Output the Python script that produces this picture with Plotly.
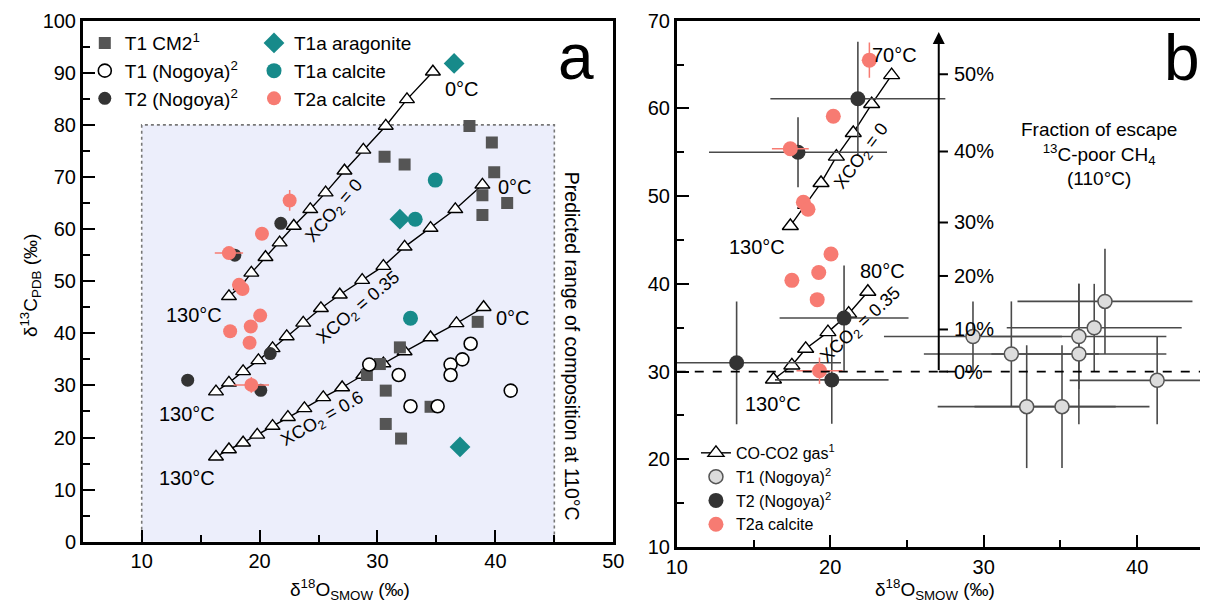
import plotly.graph_objects as go

FONT = "Liberation Sans, Arial, sans-serif"

# ---------------- data ----------------
# T1 CM2 (gray squares, panel a)
t1cm2_x = [37.8, 39.7, 30.6, 32.3, 39.9, 38.9, 41.0, 38.9, 38.5, 31.9, 30.2, 29.1, 30.7, 34.5, 30.7, 32.0]
t1cm2_y = [79.8, 76.6, 73.9, 72.4, 70.9, 66.5, 65.0, 62.7, 42.2, 37.3, 34.1, 32.0, 29.0, 25.9, 22.6, 19.8]

# T1 (Nogoya) open circles
t1_x = [29.3, 31.8, 32.8, 35.1, 36.2, 36.2, 37.2, 37.9, 41.3]
t1_y = [34.0, 32.0, 26.0, 26.0, 34.0, 32.0, 35.0, 38.0, 29.0]
t1_ex = [5.8, 5.7, 5.8, 5.7, 5.7, 5.7, 5.7, 5.7, 5.7]
t1_ey = [4.0, 6.0, 7.0, 7.0, 6.0, 8.0, 5.0, 6.0, 5.0]

# T2 (Nogoya) dark circles
t2_x = [21.8, 17.9, 20.9, 13.9, 20.1]
t2_y = [61.1, 55.0, 36.1, 31.0, 29.05]
t2_ex = [5.7, 5.8, 4.2, 6.8, 3.7]
t2_ey = [6.5, 4.0, 6.0, 7.0, 5.0]

# T2a calcite (salmon circles)
t2a_x = [22.55, 20.2, 17.4, 18.25, 18.55, 17.5, 19.25, 20.05, 19.15, 19.3]
t2a_y = [65.5, 59.1, 55.4, 49.3, 48.5, 40.4, 41.3, 43.4, 38.2, 30.1]
t2a_ex = [0.5, 0, 1.2, 0, 0, 0, 0, 0, 0, 1.5]
t2a_ey = [2.0, 0, 0, 0, 0, 0, 0, 0, 0, 1.5]

# T1a aragonite (teal diamonds) and T1a calcite (teal circles)
t1a_arag_x = [36.5, 31.9, 37.0]
t1a_arag_y = [91.8, 61.9, 18.2]
t1a_calc_x = [34.9, 33.2, 32.8]
t1a_calc_y = [69.4, 61.9, 42.9]

# CO-CO2 gas model lines, panel a (130 C -> 0 C)
a_x0 = [17.4, 18.4, 19.3, 20.5, 21.7, 22.9, 24.3, 25.6, 27.2, 28.8, 30.7, 32.5, 34.7]
a_y0 = [47.1, 49.0, 51.6, 54.6, 57.4, 60.6, 63.8, 67.0, 71.2, 75.2, 79.8, 84.9, 90.2]
a_x35 = [16.3, 17.4, 18.6, 19.9, 21.1, 22.3, 23.7, 25.2, 26.8, 28.7, 30.5, 32.3, 34.5, 36.6, 38.9]
a_y35 = [28.8, 30.5, 32.7, 34.8, 37.1, 39.4, 42.0, 44.8, 47.4, 50.2, 52.9, 56.6, 60.2, 63.8, 68.5]
a_x60 = [16.3, 17.4, 18.6, 19.8, 21.1, 22.4, 23.8, 25.4, 27.0, 28.8, 30.5, 32.3, 34.5, 36.7, 39.0]
a_y60 = [16.3, 17.7, 19.0, 20.5, 22.2, 23.9, 25.6, 27.7, 29.6, 32.0, 34.2, 36.5, 39.2, 41.9, 45.0]

# CO-CO2 gas model lines, panel b
b_x0 = [17.4, 18.4, 19.4, 20.4, 21.5, 22.7, 24.0]
b_y0 = [46.6, 49.0, 51.5, 54.5, 57.2, 60.5, 63.8]
b_x35 = [16.3, 17.5, 18.4, 19.85, 21.2, 22.45]
b_y35 = [29.1, 30.7, 32.6, 34.5, 36.6, 39.1]

# Fraction-of-escape scale (panel b)
frac_labels = ["0%", "10%", "20%", "30%", "40%", "50%"]
frac_pos = [30.0, 34.8, 40.9, 47.0, 55.1, 63.9]
frac_axis_x = 27.07

# ---------------- styling ----------------
GRAY_SQ = "#555555"
DARK = "#333333"
TEAL = "#178a8a"
SALMON = "#f77b72"
ERR = "#4a4a4a"

fig = go.Figure()

# ---- panel a ----
for xs, ys in [(a_x0, a_y0), (a_x35, a_y35), (a_x60, a_y60)]:
    fig.add_trace(go.Scatter(x=xs, y=ys, mode="lines+markers", xaxis="x", yaxis="y",
                             line=dict(color="black", width=1.4),
                             marker=dict(symbol="triangle-up", size=13, color="white",
                                         line=dict(color="black", width=1.4)),
                             showlegend=False, cliponaxis=False))

fig.add_trace(go.Scatter(x=t1cm2_x, y=t1cm2_y, mode="markers", xaxis="x", yaxis="y",
                         name="T1 CM2<sup>1</sup>", legend="legend",
                         marker=dict(symbol="square", size=12, color=GRAY_SQ)))
fig.add_trace(go.Scatter(x=t1_x, y=t1_y, mode="markers", xaxis="x", yaxis="y",
                         name="T1 (Nogoya)<sup>2</sup>", legend="legend",
                         marker=dict(symbol="circle", size=13, color="white",
                                     line=dict(color="black", width=1.6))))
fig.add_trace(go.Scatter(x=t2_x, y=t2_y, mode="markers", xaxis="x", yaxis="y",
                         name="T2 (Nogoya)<sup>2</sup>", legend="legend",
                         marker=dict(symbol="circle", size=13, color=DARK)))
fig.add_trace(go.Scatter(x=t1a_arag_x, y=t1a_arag_y, mode="markers", xaxis="x", yaxis="y",
                         name="T1a aragonite", legend="legend2",
                         marker=dict(symbol="diamond", size=16, color=TEAL)))
fig.add_trace(go.Scatter(x=t1a_calc_x, y=t1a_calc_y, mode="markers", xaxis="x", yaxis="y",
                         name="T1a calcite", legend="legend2",
                         marker=dict(symbol="circle", size=15, color=TEAL)))
fig.add_trace(go.Scatter(x=t2a_x, y=t2a_y, mode="markers", xaxis="x", yaxis="y",
                         name="T2a calcite", legend="legend2",
                         error_x=dict(type="data", array=t2a_ex, color=SALMON, thickness=1.5, width=0),
                         error_y=dict(type="data", array=t2a_ey, color=SALMON, thickness=1.5, width=0),
                         marker=dict(symbol="circle", size=14, color=SALMON)))

# ---- panel b ----
fig.add_trace(go.Scatter(x=b_x0, y=b_y0, mode="lines+markers", xaxis="x2", yaxis="y2",
                         name="CO-CO2 gas<sup>1</sup>", legend="legend3",
                         line=dict(color="black", width=1.4),
                         marker=dict(symbol="triangle-up", size=14, color="white",
                                     line=dict(color="black", width=1.4))))
fig.add_trace(go.Scatter(x=b_x35, y=b_y35, mode="lines+markers", xaxis="x2", yaxis="y2",
                         showlegend=False,
                         line=dict(color="black", width=1.4),
                         marker=dict(symbol="triangle-up", size=14, color="white",
                                     line=dict(color="black", width=1.4))))
fig.add_trace(go.Scatter(x=t1_x, y=t1_y, mode="markers", xaxis="x2", yaxis="y2",
                         name="T1 (Nogoya)<sup>2</sup>", legend="legend3",
                         error_x=dict(type="data", array=t1_ex, color=ERR, thickness=1.6, width=0),
                         error_y=dict(type="data", array=t1_ey, color=ERR, thickness=1.6, width=0),
                         marker=dict(symbol="circle", size=14, color="#dcdcdc",
                                     line=dict(color="#555555", width=1.5))))
fig.add_trace(go.Scatter(x=t2_x, y=t2_y, mode="markers", xaxis="x2", yaxis="y2",
                         name="T2 (Nogoya)<sup>2</sup>", legend="legend3",
                         error_x=dict(type="data", array=t2_ex, color=ERR, thickness=1.6, width=0),
                         error_y=dict(type="data", array=t2_ey, color=ERR, thickness=1.6, width=0),
                         marker=dict(symbol="circle", size=15, color=DARK)))
fig.add_trace(go.Scatter(x=t2a_x, y=t2a_y, mode="markers", xaxis="x2", yaxis="y2",
                         name="T2a calcite", legend="legend3",
                         error_x=dict(type="data", array=t2a_ex, color=SALMON, thickness=1.5, width=0),
                         error_y=dict(type="data", array=t2a_ey, color=SALMON, thickness=1.5, width=0),
                         marker=dict(symbol="circle", size=15, color=SALMON)))

# ---------------- axes ----------------
axis_common = dict(showgrid=False, zeroline=False, showline=True, linecolor="black",
                   linewidth=2.5, mirror=True, ticks="inside", ticklen=12, tickwidth=2.2,
                   tickcolor="black", automargin=False,
                   tickfont=dict(family=FONT, size=20, color="black"))
minor = dict(ticks="inside", ticklen=7, tickwidth=2.2, tickcolor="black", dtick=5)

fig.update_layout(
    xaxis=dict(domain=[0.0623, 0.5044], range=[5, 50], dtick=10, tick0=0, anchor="y",
               minor=minor, **axis_common),
    yaxis=dict(domain=[0.1045, 0.9787], range=[0, 100], dtick=10, tick0=0, anchor="x",
               minor=minor, **axis_common),
    xaxis2=dict(domain=[0.5573, 0.9992], range=[10, 44.55], dtick=10, tick0=0, anchor="y2",
                minor=minor, **axis_common),
    yaxis2=dict(domain=[0.0956, 0.9787], range=[10, 70], dtick=10, tick0=0, anchor="x2",
                minor=minor, **axis_common),
)

# ---------------- shapes ----------------
shapes = [
    dict(type="rect", xref="x", yref="y", x0=10, x1=45, y0=0, y1=80,
         fillcolor="#eceefb", line=dict(width=0), layer="below"),
    dict(type="path", xref="x", yref="y", path="M 10,0 L 10,80 L 45,80 L 45,0",
         line=dict(color="#777777", width=1.6, dash="dot"), layer="below"),
    dict(type="line", xref="x2 domain", yref="y2", x0=0, x1=1, y0=30, y1=30,
         line=dict(color="black", width=1.6, dash="dash")),
]
for yv in frac_pos:
    shapes.append(dict(type="line", xref="x2", yref="y2", x0=frac_axis_x, x1=frac_axis_x + 0.6,
                       y0=yv, y1=yv, line=dict(color="black", width=2)))
fig.update_layout(shapes=shapes)

# ---------------- annotations ----------------
def txt(x, y, text, xref="x", yref="y", size=20, angle=0, xanchor="center", yanchor="middle", align="center"):
    return dict(x=x, y=y, xref=xref, yref=yref, text=text, showarrow=False,
                font=dict(family=FONT, size=size, color="black"), textangle=angle,
                xanchor=xanchor, yanchor=yanchor, align=align)

ann = [
    # panel a
    txt(37.2, 86.9, "0°C"), txt(41.7, 68.0, "0°C"), txt(41.5, 42.9, "0°C"),
    txt(14.4, 43.5, "130°C"), txt(13.8, 24.5, "130°C"), txt(13.8, 12.2, "130°C"),
    txt(26.4, 63.3, "XCO<sub>2</sub> = 0", size=18, angle=-49),
    txt(28.4, 44.8, "XCO<sub>2</sub> = 0.35", size=18, angle=-40),
    txt(25.4, 23.4, "XCO<sub>2</sub> = 0.6", size=18, angle=-30),
    txt(46.5, 37.6, "Predicted range of composition at 110°C", size=19.5, angle=90),
    txt(46.8, 93.0, "a", size=64),
    # panel b
    txt(24.2, 66.1, "70°C", "x2", "y2"), txt(23.4, 41.5, "80°C", "x2", "y2"),
    txt(15.2, 44.2, "130°C", "x2", "y2"), txt(16.3, 26.3, "130°C", "x2", "y2"),
    txt(22.1, 54.5, "XCO<sub>2</sub> = 0", "x2", "y2", size=18, angle=-53),
    txt(22.0, 35.3, "XCO<sub>2</sub> = 0.35", "x2", "y2", size=18, angle=-43),
    txt(42.9, 65.7, "b", "x2", "y2", size=64),
    txt(37.5, 54.8, "Fraction of escape<br><sup>13</sup>C-poor CH<sub>4</sub><br>(110°C)", "x2", "y2", size=19),
    # axis titles
    txt(0.0183, 0.535, "δ<sup>13</sup>C<sub>PDB</sub> (‰)", "paper", "paper", size=19, angle=-90),
    txt(0.285, 0.024, "δ<sup>18</sup>O<sub>SMOW</sub> (‰)", "paper", "paper", size=19),
    txt(0.7725, 0.024, "δ<sup>18</sup>O<sub>SMOW</sub> (‰)", "paper", "paper", size=19),
]
for lab, yv in zip(frac_labels, frac_pos):
    ann.append(txt(frac_axis_x + 0.85, yv, lab, "x2", "y2", size=20, xanchor="left"))
# fraction axis with arrow
ann.append(dict(x=frac_axis_x, y=68.7, ax=frac_axis_x, ay=30.0, xref="x2", yref="y2",
                axref="x2", ayref="y2", text="", showarrow=True, arrowhead=2,
                arrowsize=1.2, arrowwidth=2, arrowcolor="black", standoff=0))
fig.update_layout(annotations=ann)

# ---------------- legends ----------------
# (the page body adds an 8 px offset, so the figure is 1200 x 596)
fig.update_layout(
    legend=dict(x=0.064, y=0.973, xanchor="left", yanchor="top", bgcolor="rgba(0,0,0,0)",
                font=dict(family=FONT, size=19, color="black"), tracegroupgap=0, itemwidth=30),
    legend2=dict(x=0.205, y=0.973, xanchor="left", yanchor="top", bgcolor="rgba(0,0,0,0)",
                 font=dict(family=FONT, size=19, color="black"), tracegroupgap=0, itemwidth=30),
    legend3=dict(x=0.5733, y=0.282, xanchor="left", yanchor="top", bgcolor="rgba(0,0,0,0)",
                 font=dict(family=FONT, size=16, color="black"), tracegroupgap=0, itemwidth=30),
    width=1200, height=596,
    margin=dict(l=0, r=0, t=0, b=0, pad=0, autoexpand=False),
    paper_bgcolor="white", plot_bgcolor="white",
    font=dict(family=FONT, color="black"),
)

fig.write_html("out.html")
